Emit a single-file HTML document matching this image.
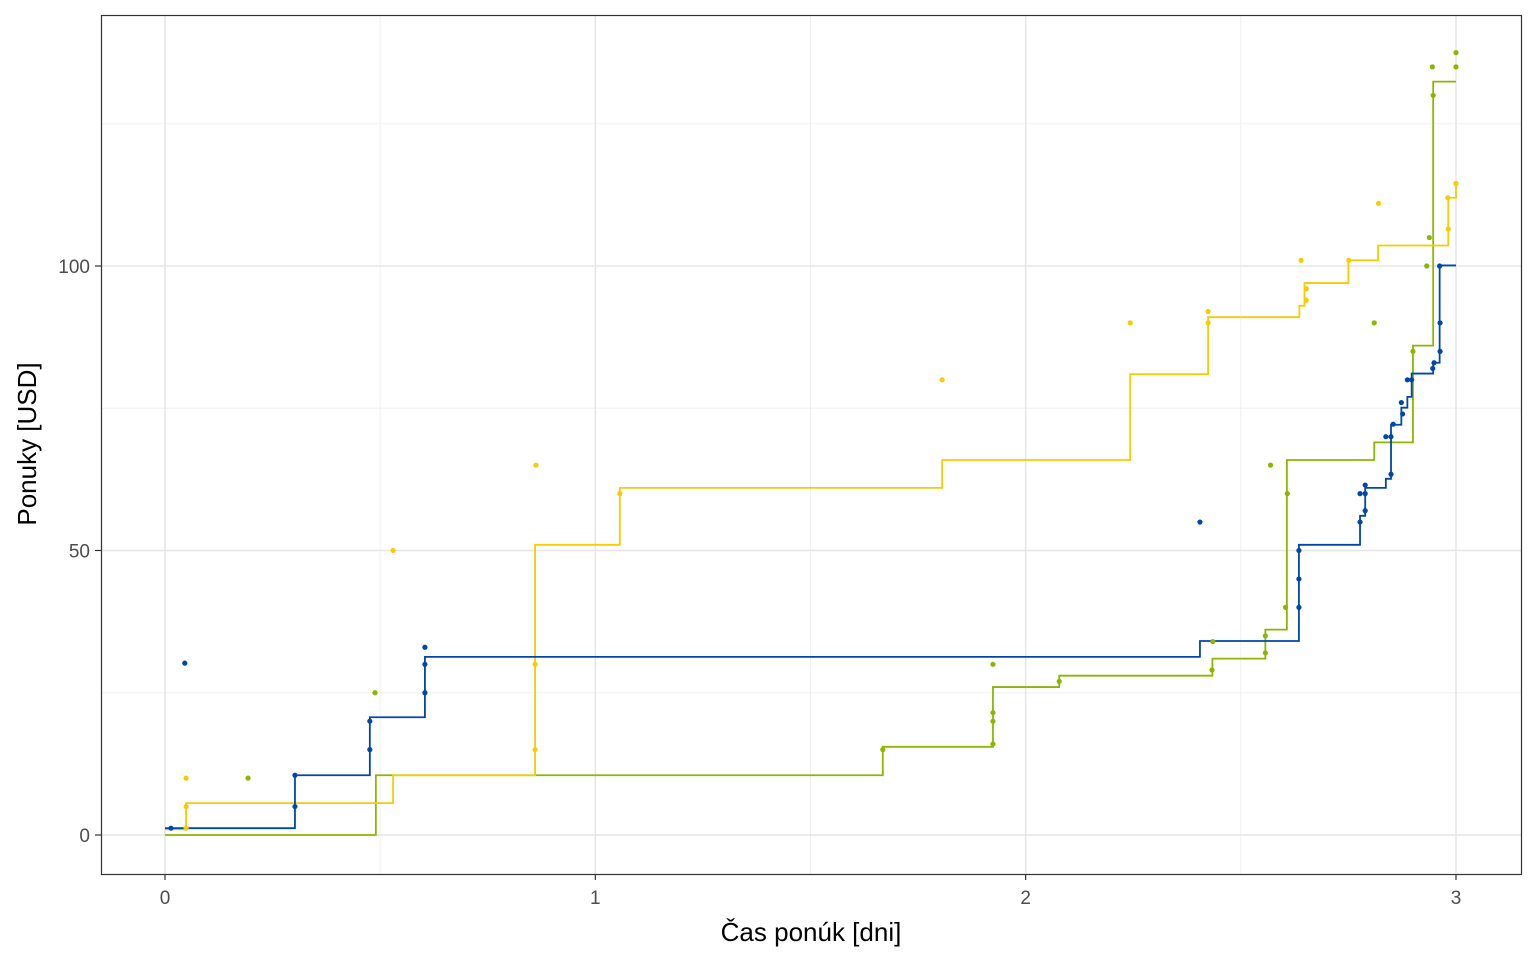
<!DOCTYPE html>
<html><head><meta charset="utf-8"><style>
body{margin:0;background:#fff}
svg{display:block;font-family:"Liberation Sans",sans-serif}
</style></head><body>
<svg id="chart" width="1536" height="960" xmlns="http://www.w3.org/2000/svg">
<rect width="1536" height="960" fill="#fff"/>
<g id="grid"></g><g id="series"></g><g id="axes"></g>
<rect x="101.5" y="15.5" width="1420" height="859" fill="none" stroke="#333" stroke-width="1.2"/>
<text x="811" y="941" font-size="26" text-anchor="middle" fill="#000">Čas ponúk [dni]</text>
<text transform="translate(36,444) rotate(-90)" font-size="26" text-anchor="middle" fill="#000">Ponuky [USD]</text>
</svg>
<script>
const xTicks=[0,1,2,3];
const yTicks=[0,50,100];
const xMinor=[0.5,1.5,2.5];
const yMinor=[25,75,125];
const blueStepX=[0,0.302,0.476,0.604,2.405,2.635,2.777,2.789,2.837,2.849,2.873,2.887,2.897,2.947,2.962,3.0];
const blueStepY=[1.2,10.5,20.7,31.3,34.1,51,56.1,61.0,62.6,72.1,75.1,77.0,81.1,83.0,100.1,100.1];
const yellowStepX=[0,0.049,0.53,0.86,1.057,1.806,2.243,2.424,2.636,2.648,2.75,2.819,2.982,3.0];
const yellowStepY=[1.0,5.6,10.5,51,61,65.9,81,91,93,97,101,103.6,112,114.4];
const greenStepX=[0,0.49,1.668,1.924,2.078,2.434,2.557,2.607,2.81,2.9,2.947,3.0];
const greenStepY=[0,10.5,15.5,26,28,31,36.1,65.9,69,86,132.4,132.4];
const blueX=[0.014,0.046,0.302,0.302,0.476,0.476,0.604,0.604,0.604,2.405,2.635,2.635,2.635,2.777,2.789,2.777,2.789,2.789,2.849,2.837,2.849,2.854,2.876,2.873,2.887,2.897,2.946,2.949,2.963,2.963,2.962];
const blueY=[1.2,30.2,5,10.5,15,20,25,30,33,55,50,45,40,55,57,60,60,61.5,63.4,70,70,72.2,74,76,80,80,82,83,85,90,100];
const yellowX=[0.049,0.049,0.049,0.53,0.862,0.86,0.86,1.057,1.806,2.243,2.424,2.424,2.64,2.652,2.652,2.751,2.82,2.982,2.981,3.0];
const yellowY=[10,5,1.2,50,65,30,15,60,80,90,92,90,101,96,94,101,111,106.5,112,114.5];
const greenX=[0.488,0.193,1.668,1.924,1.924,1.924,1.924,2.078,2.435,2.433,2.557,2.557,2.604,2.608,2.569,2.81,2.9,2.932,2.938,2.947,2.945,3.0,3.0];
const greenY=[25,10,15,30,16,20,21.5,27,34,29,35,32,40,60,65,90,85,100,105,130,135,135,137.5];

const NS="http://www.w3.org/2000/svg";
const X=v=>165+v*430.33, Y=v=>835-v*5.69;
function mk(tag,attrs,parent){const e=document.createElementNS(NS,tag);for(const k in attrs)e.setAttribute(k,attrs[k]);parent.appendChild(e);return e;}
const grid=document.getElementById('grid'),axes=document.getElementById('axes'),series=document.getElementById('series');
xMinor.forEach(v=>{const l=mk('line',{x1:X(v),x2:X(v),y1:15,y2:874,stroke:'#f0f0f0','stroke-width':1},grid);

});
yMinor.forEach(v=>{const l=mk('line',{x1:101,x2:1521,y1:Y(v),y2:Y(v),stroke:'#f0f0f0','stroke-width':1},grid);

});
xTicks.forEach(v=>{const l=mk('line',{x1:X(v),x2:X(v),y1:15,y2:874,stroke:'#e6e6e6','stroke-width':1.5},grid);


const t=mk('line',{x1:X(v),x2:X(v),y1:874,y2:880,stroke:'#333','stroke-width':1.2},axes);


const tx=mk('text',{x:X(v),y:904,'font-size':19,'text-anchor':'middle',fill:'#4d4d4d'},axes);tx.textContent=v;

});
yTicks.forEach(v=>{const l=mk('line',{x1:101,x2:1521,y1:Y(v),y2:Y(v),stroke:'#e6e6e6','stroke-width':1.5},grid);


const t=mk('line',{x1:95,x2:101,y1:Y(v),y2:Y(v),stroke:'#333','stroke-width':1.2},axes);


const tx=mk('text',{x:90,y:Y(v)+7,'font-size':19,'text-anchor':'end',fill:'#4d4d4d'},axes);tx.textContent=v;

});
function stepLine(xs,ys,color,name){let d='M'+X(xs[0])+','+Y(ys[0]);
for(let i=1;i<xs.length;i++){d+=' H'+X(xs[i])+' V'+Y(ys[i]);}
const p=mk('path',{d:d,fill:'none',stroke:color,'stroke-width':1.8},series);

}
function pts(xs,ys,color,name){xs.forEach((x,i)=>{const c=mk('circle',{cx:X(x),cy:Y(ys[i]),r:2.6,fill:color},series);

});}
stepLine(greenStepX,greenStepY,'#8db600','green-step-line');
stepLine(yellowStepX,yellowStepY,'#f8cc00','yellow-step-line');
stepLine(blueStepX,blueStepY,'#0047ab','blue-step-line');
pts(greenX,greenY,'#8db600','green-point');
pts(yellowX,yellowY,'#f8cc00','yellow-point');
pts(blueX,blueY,'#0047ab','blue-point');
</script>
</body></html>
